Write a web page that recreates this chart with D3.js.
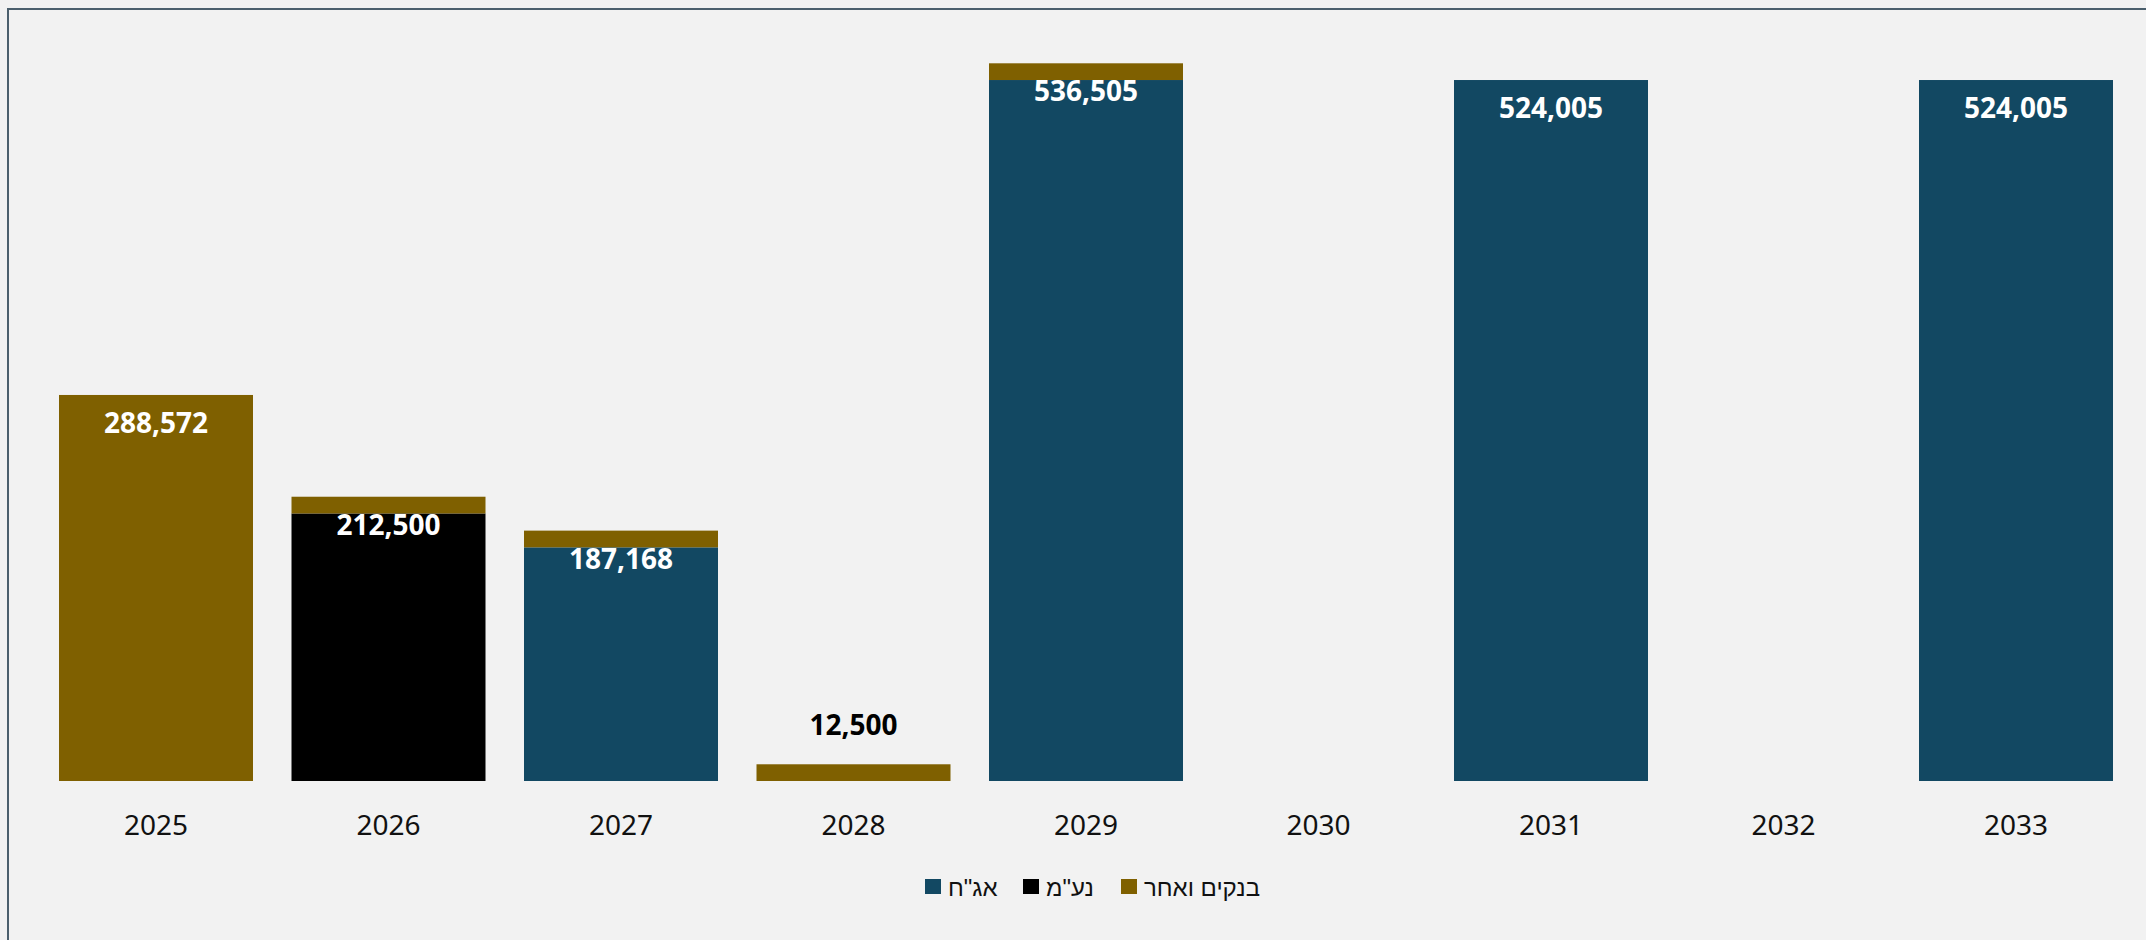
<!DOCTYPE html>
<html>
<head>
<meta charset="utf-8">
<script src="https://cdn.jsdelivr.net/npm/d3@7"></script>
<style>
  html, body { margin: 0; padding: 0; background: #F2F2F2; }
  svg { display: block; }
</style>
</head>
<body>
<svg id="chart" width="2146" height="940"></svg>
<script>
// ---- data ----
const years = ["2025", "2026", "2027", "2028", "2029", "2030", "2031", "2032", "2033"];
const seriesNames = ["אג\"ח", "נע\"מ", "בנקים ואחר"];
const bonds = [0, 0, 174668, 0, 524005, 0, 524005, 0, 524005];      // אג"ח
const nam = [0, 200000, 0, 0, 0, 0, 0, 0, 0];                       // נע"מ
const banks = [288572, 12500, 12500, 12500, 12500, 0, 0, 0, 0];     // בנקים ואחר
const seriesColors = ["#124862", "#000000", "#7F6000"];

// ---- build ----
const svg = d3.select("#chart");
const W = 2146, H = 940;

svg.append("rect").attr("x", 0).attr("y", 0).attr("width", W).attr("height", H).attr("fill", "#F2F2F2");
// frame (top & left visible)
svg.append("rect").attr("x", 8).attr("y", 9).attr("width", W + 20).attr("height", H + 20)
  .attr("fill", "none").attr("stroke", "#4B5F6D").attr("stroke-width", 2);

const rows = years.map((y, i) => ({ year: y, s0: bonds[i], s1: nam[i], s2: banks[i] }));
const keys = ["s0", "s1", "s2"];
const stack = d3.stack().keys(keys)(rows);
const totals = rows.map(r => r.s0 + r.s1 + r.s2);

const x = d3.scaleBand().domain(years).range([39.75, 2132.25]).paddingInner(0.1656).paddingOuter(0.0828);
const y = d3.scaleLinear().domain([0, d3.max(totals)]).range([781, 63.3]);

const g = svg.append("g");
stack.forEach((layer, li) => {
  g.selectAll(null).data(layer.filter(d => d[1] - d[0] > 0)).enter().append("rect")
    .attr("x", d => x(d.data.year))
    .attr("y", d => y(d[1]))
    .attr("width", x.bandwidth())
    .attr("height", d => y(d[0]) - y(d[1]))
    .attr("fill", seriesColors[li]);
});

// x axis
const xAxis = d3.axisBottom(x).tickSize(0).tickPadding(0);
const ax = svg.append("g").attr("transform", "translate(0,815)").call(xAxis);
ax.select(".domain").remove();
ax.selectAll("text").attr("font-family", "Noto Sans, sans-serif").attr("font-size", 28)
  .attr("fill", "#111").attr("dy", "0.71em");

// total labels
const fmt = d3.format(",");
rows.forEach((r, i) => {
  const t = totals[i];
  if (t <= 0) return;
  const inside = (y(0) - y(t)) > 100;
  svg.append("text")
    .attr("x", x(r.year) + x.bandwidth() / 2)
    .attr("y", inside ? y(t) + 27 : y(t) - 40)
    .attr("text-anchor", "middle")
    .attr("dominant-baseline", "central")
    .attr("font-family", "Noto Sans, sans-serif")
    .attr("font-weight", "bold")
    .attr("font-size", 28)
    .attr("fill", inside ? "#FFFFFF" : "#000000")
    .text(fmt(t));
});

// legend
const legendStarts = [925, 1023, 1121];
const lg = svg.append("g");
seriesNames.forEach((name, i) => {
  lg.append("rect").attr("x", legendStarts[i]).attr("y", 879).attr("width", 16).attr("height", 15)
    .attr("fill", seriesColors[i]);
  lg.append("text").attr("x", legendStarts[i] + 23).attr("y", 887)
    .attr("dominant-baseline", "central")
    .attr("font-family", "Liberation Sans, DejaVu Sans, sans-serif")
    .attr("font-size", 24).attr("fill", "#111")
    .text(name);
});
</script>
</body>
</html>
